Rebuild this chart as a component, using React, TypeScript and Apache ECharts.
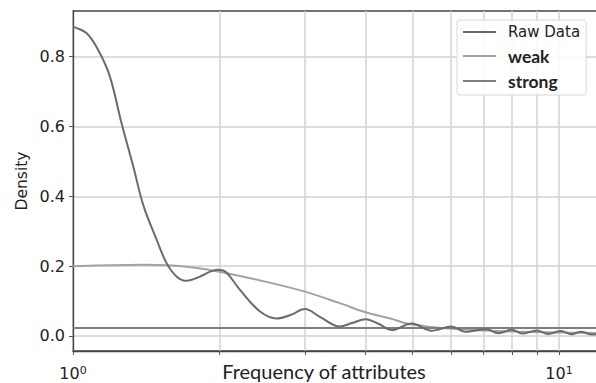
import React, { useEffect, useRef } from 'react';
import * as echarts from 'echarts';

// ---- data ----
const rawX = [1.0, 1.067, 1.127, 1.191, 1.259, 1.331, 1.395, 1.487, 1.559, 1.635, 1.714, 1.825, 1.92, 1.98, 2.06, 2.206, 2.426, 2.626, 2.8, 3.0, 3.22, 3.54, 3.75, 4.0, 4.25, 4.53, 4.98, 5.47, 6.01, 6.41, 7.1, 7.5, 8.0, 8.4, 9.0, 9.5, 10.1, 10.6, 11.1, 11.7, 12.2];
const rawY = [0.886, 0.867, 0.819, 0.743, 0.609, 0.485, 0.375, 0.275, 0.208, 0.17, 0.158, 0.17, 0.185, 0.19, 0.184, 0.132, 0.07, 0.05, 0.06, 0.077, 0.055, 0.027, 0.037, 0.048, 0.035, 0.017, 0.036, 0.015, 0.027, 0.012, 0.019, 0.008, 0.018, 0.007, 0.016, 0.006, 0.014, 0.005, 0.012, 0.004, 0.008];

const weakX = [1.0, 1.2, 1.4, 1.6, 1.8, 2.0, 2.5, 3.0, 3.54, 4.0, 4.5, 4.86, 5.2, 5.5, 6.0, 7.0, 8.0, 9.0, 10.0, 12.2];
const weakY = [0.2, 0.203, 0.204, 0.202, 0.195, 0.184, 0.155, 0.127, 0.094, 0.068, 0.05, 0.036, 0.03, 0.025, 0.021, 0.016, 0.013, 0.011, 0.01, 0.008];

const strongX = [1.0, 12.2];
const strongY = [0.023, 0.023];

const seriesNames = ['Raw Data', 'weak', 'strong'];
const xTickValues = [1, 2, 3, 4, 5, 6, 7, 8, 9, 10];
const xLabelValues = [1, 10];
const yTickValues = [0, 0.2, 0.4, 0.6, 0.8];

const X_MIN = 1;
const X_MAX = 12.2;
const Y_MIN = -0.043;
const Y_MAX = 0.931;

const pairs = (xs: number[], ys: number[]) => xs.map((x, i) => [x, ys[i]]);

export default function App() {
  const ref = useRef<HTMLDivElement>(null);
  useEffect(() => {
    if (!ref.current) return;
    const chart = echarts.init(ref.current, undefined, { renderer: 'svg' });
    const tickFont = 'DejaVu Sans';
    const calibriLike = 'Lato';
    chart.setOption({
      animation: false,
      backgroundColor: '#ffffff',
      grid: {
        left: 73,
        right: 11,
        top: 11,
        bottom: 32,
        containLabel: false,
        outerBoundsMode: 'none',
        show: true,
        borderColor: '#444444',
        borderWidth: 1.3,
        backgroundColor: 'transparent',
      },
      legend: {
        orient: 'vertical',
        left: 457,
        top: 20,
        padding: [4, 6, 5, 6],
        icon: 'rect',
        itemWidth: 33,
        itemHeight: 2,
        itemGap: 7,
        backgroundColor: 'rgba(255,255,255,0.85)',
        borderColor: '#d8d8d8',
        borderWidth: 1,
        borderRadius: 3,
        textStyle: { color: '#222', lineHeight: 16, padding: [0, 0, 0, 7] },
        data: [
          { name: seriesNames[0], textStyle: { fontFamily: tickFont, fontSize: 15 } },
          { name: seriesNames[1], textStyle: { fontFamily: calibriLike, fontSize: 17.5, fontWeight: 'bold' } },
          { name: seriesNames[2], textStyle: { fontFamily: calibriLike, fontSize: 17.5, fontWeight: 'bold' } },
        ],
      },
      xAxis: {
        type: 'log',
        logBase: 10,
        min: X_MIN,
        max: X_MAX,
        axisLine: { show: true, onZero: false, lineStyle: { color: '#444', width: 1.3 } },
        axisTick: {
          show: true,
          length: 4,
          customValues: xTickValues,
          lineStyle: { color: '#555', width: 1 },
        },
        axisLabel: {
          customValues: xLabelValues,
          margin: 14,
          formatter: (v: number) => `{b|10}{s|${Math.round(Math.log10(v))}}`,
          rich: {
            b: { fontFamily: tickFont, fontSize: 16, color: '#222', verticalAlign: 'bottom' },
            s: { fontFamily: tickFont, fontSize: 11, color: '#222', verticalAlign: 'top' },
          },
        },
        splitLine: { show: true, lineStyle: { color: '#d2d2d2', width: 1.5 } },
        name: 'Frequency of attributes',
        nameLocation: 'middle',
        nameMoveOverlap: false,
        nameGap: 10,
        nameTextStyle: {
          fontFamily: calibriLike,
          fontSize: 20,
          color: '#222',
          padding: [0, 26, 0, 0],
        },
      },
      yAxis: {
        type: 'value',
        min: Y_MIN,
        max: Y_MAX,
        axisLine: { show: true, lineStyle: { color: '#444', width: 1.3 } },
        axisTick: {
          show: true,
          length: 4,
          customValues: yTickValues,
          lineStyle: { color: '#555', width: 1 },
        },
        axisLabel: {
          customValues: yTickValues,
          margin: 8,
          fontFamily: tickFont,
          fontSize: 16,
          color: '#222',
          formatter: (v: number) => v.toFixed(1),
        },
        splitLine: { show: true, lineStyle: { color: '#d2d2d2', width: 1.5 } },
        name: 'Density',
        nameLocation: 'middle',
        nameMoveOverlap: false,
        nameGap: 43,
        nameTextStyle: { fontFamily: tickFont, fontSize: 15.5, color: '#222' },
      },
      series: [
        {
          name: seriesNames[0],
          type: 'line',
          data: pairs(rawX, rawY),
          symbol: 'none',
          smooth: 0.35,
          lineStyle: { color: '#6b6b6b', width: 2 },
          itemStyle: { color: '#6b6b6b' },
          z: 4,
        },
        {
          name: seriesNames[1],
          type: 'line',
          data: pairs(weakX, weakY),
          symbol: 'none',
          smooth: 0.35,
          lineStyle: { color: '#a3a3a3', width: 2 },
          itemStyle: { color: '#a3a3a3' },
          z: 3,
        },
        {
          name: seriesNames[2],
          type: 'line',
          data: pairs(strongX, strongY),
          symbol: 'none',
          lineStyle: { color: '#7f7f7f', width: 2 },
          itemStyle: { color: '#7f7f7f' },
          z: 3,
        },
      ],
    });
    return () => chart.dispose();
  }, []);
  return (
    <div
      style={{
        position: 'fixed',
        left: 0,
        top: 0,
        width: 596,
        height: 383,
        overflow: 'hidden',
        background: '#fff',
      }}
    >
      <div ref={ref} style={{ width: 612, height: 383 }} />
    </div>
  );
}
